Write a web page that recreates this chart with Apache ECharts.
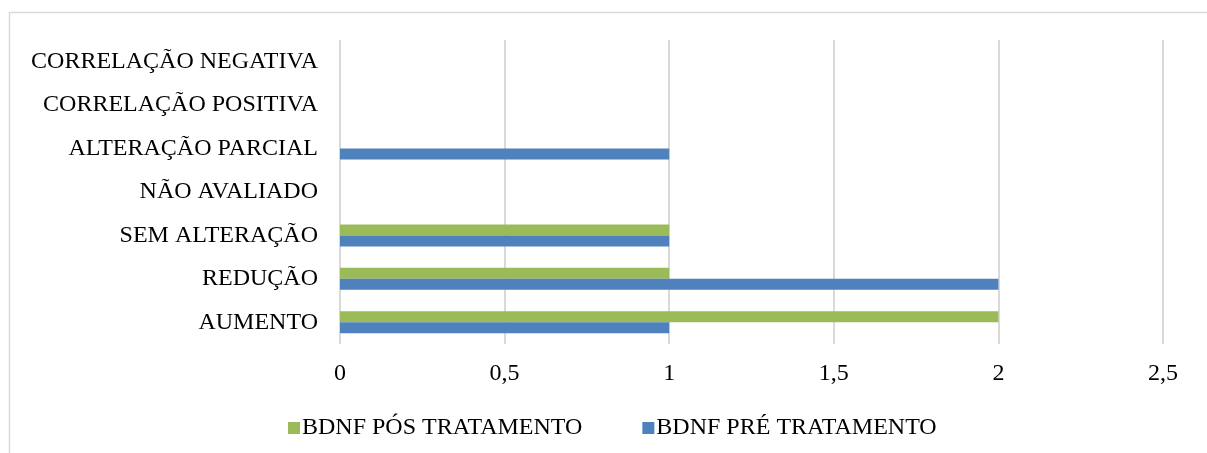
<!DOCTYPE html>
<html>
<head>
<meta charset="utf-8">
<style>
  html, body { margin: 0; padding: 0; background: #ffffff; }
  #chart { width: 1207px; height: 453px; }
</style>
<script src="https://cdn.jsdelivr.net/npm/echarts@6/dist/echarts.min.js"></script>
</head>
<body>
<div id="chart"></div>
<script>
// Categories, listed from the bottom of the axis to the top
const categories = [
  'AUMENTO',
  'REDUÇÃO',
  'SEM ALTERAÇÃO',
  'NÃO AVALIADO',
  'ALTERAÇÃO PARCIAL',
  'CORRELAÇÃO POSITIVA',
  'CORRELAÇÃO NEGATIVA'
];

// Number of cases per category
const preTratamento = [1, 2, 1, 0, 1, 0, 0];
const posTratamento = [2, 1, 1, 0, 0, 0, 0];

const legendOrder = ['BDNF PÓS TRATAMENTO', 'BDNF PRÉ TRATAMENTO'];

// Value axis ticks
const xMin = 0;
const xMax = 2.5;
const xStep = 0.5;

const FONT = '"Liberation Serif", "Times New Roman", serif';
const BLUE = '#4f81bd';
const GREEN = '#9bbb59';

const chart = echarts.init(document.getElementById('chart'), null, { renderer: 'canvas' });

chart.setOption({
  animation: false,
  backgroundColor: '#ffffff',
  graphic: [{
    type: 'rect',
    left: 7,
    top: 10,
    shape: { width: 1220, height: 460 },
    style: { fill: 'none', stroke: '#d9d9d9', lineWidth: 1.5 },
    silent: true
  }],
  grid: {
    left: 340,
    right: 44,
    top: 40,
    bottom: 109,
    containLabel: false
  },
  legend: {
    data: legendOrder,
    left: 283,
    top: 411,
    itemWidth: 12,
    itemHeight: 12,
    itemGap: 60,
    icon: 'rect',
    textStyle: {
      fontFamily: FONT,
      fontSize: 24,
      color: '#000000',
      padding: [0, 0, 0, -3]
    }
  },
  xAxis: {
    type: 'value',
    min: xMin,
    max: xMax,
    interval: xStep,
    axisLine: { show: false },
    axisTick: { show: false },
    splitLine: { show: true, lineStyle: { color: '#d9d9d9', width: 2 } },
    axisLabel: {
      fontFamily: FONT,
      fontSize: 24,
      color: '#000000',
      margin: 18,
      formatter: v => String(v).replace('.', ',')
    }
  },
  yAxis: {
    type: 'category',
    data: categories,
    axisLine: { show: false },
    axisTick: { show: false },
    splitLine: { show: false },
    axisLabel: {
      fontFamily: FONT,
      fontSize: 24,
      color: '#000000',
      margin: 22
    }
  },
  series: [
    {
      name: 'BDNF PÓS TRATAMENTO',
      type: 'bar',
      data: posTratamento,
      itemStyle: { color: GREEN },
      barWidth: 11,
      barGap: '0%'
    },
    {
      name: 'BDNF PRÉ TRATAMENTO',
      type: 'bar',
      data: preTratamento,
      itemStyle: { color: BLUE },
      barWidth: 11,
      barGap: '0%'
    }
  ]
});
</script>
</body>
</html>
